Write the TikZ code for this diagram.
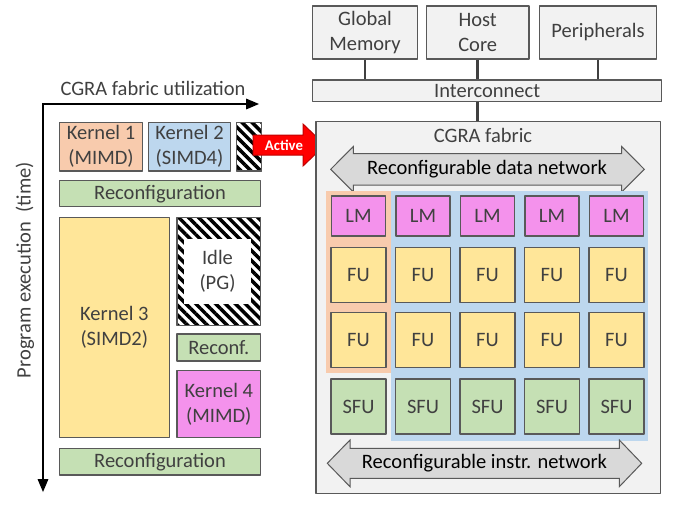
\documentclass[tikz,border=0pt]{standalone}
\usepackage{fontspec}
\setmainfont{Carlito}
\usetikzlibrary{arrows,patterns.meta}
\definecolor{orangefill}{rgb}{0.9725,0.7961,0.6784}
\definecolor{bluefill}{rgb}{0.7412,0.8431,0.9333}
\definecolor{greenfill}{rgb}{0.7725,0.8784,0.7059}
\definecolor{yellowfill}{rgb}{1.,0.902,0.6}
\definecolor{pinkfill}{rgb}{0.9569,0.5725,0.9255}
\definecolor{panelgray}{rgb}{0.949,0.949,0.949}
\definecolor{netgray}{rgb}{0.851,0.851,0.851}
\definecolor{edgegray}{rgb}{0.349,0.349,0.349}
\definecolor{textgray}{rgb}{0.251,0.251,0.251}
\definecolor{darkred}{rgb}{0.7529,0.,0.}
\tikzset{
  box/.style={draw=edgegray,line width=1.3pt,inner sep=0pt,align=center,text=textgray,
    font=\fontsize{20.5}{25}\selectfont},
  hatch/.style={box,preaction={fill=white},
    pattern={Lines[angle=-45,distance=7pt,line width=3.5pt]},pattern color=black},
  unit/.style={box,minimum width=55pt,minimum height=55pt},
  link/.style={draw=textgray,line width=2.5pt,line cap=butt},
  netarrow/.style={draw=edgegray,fill=netgray,line width=1pt,line join=miter}
}

\begin{document}
\begin{tikzpicture}[line cap=round,line join=round,>=triangle 45,x=1pt,y=-1pt]
\useasboundingbox (0,0) rectangle (674,504);
% time line and utilization axis
\coordinate (origin) at (43,104);
\coordinate (xend) at (259,104);
\coordinate (yend) at (43,492);
\draw [line width=2.pt,<->,line join=miter] (xend) -- (origin) -- (yend);
\node [text=textgray,font=\fontsize{20.5}{25}\selectfont] (util) at (153,88) {CGRA fabric utilization};
\node [text=textgray,font=\fontsize{20.5}{25}\selectfont,rotate=90] (time) at (25,270) {Program execution\ \ (time)};
% schedule
\node [box,fill=orangefill,minimum width=83.4pt,minimum height=48.7pt] (k1) at (101,146.7) {Kernel 1\\(MIMD)};
\node [box,fill=bluefill,minimum width=82.4pt,minimum height=48.7pt] (k2) at (189.5,146.7) {Kernel 2\\(SIMD4)};
\node [hatch,minimum width=24.6pt,minimum height=48.7pt] (spare) at (249,146.7) {};
\node [box,fill=greenfill,minimum width=201pt,minimum height=26pt] (rc1) at (160,193.7) {Reconfiguration};
\node [box,fill=yellowfill,minimum width=110pt,minimum height=220pt] (k3) at (114.3,327.7) {Kernel 3\\(SIMD2)};
\node [hatch,minimum width=83.5pt,minimum height=107.6pt] (idle) at (218.8,271.5) {};
\node [box,draw=none,fill=white,minimum width=66.4pt,minimum height=64.7pt] (idletxt) at (217.5,271.7) {Idle\\(PG)};
\node [box,fill=greenfill,minimum width=83.5pt,minimum height=27pt] (rc2) at (218.8,347.5) {Reconf.};
\node [box,fill=pinkfill,minimum width=83.5pt,minimum height=67pt] (k4) at (218.8,404.2) {Kernel 4\\(MIMD)};
\node [box,fill=greenfill,minimum width=201pt,minimum height=26.7pt] (rc3) at (160,461.7) {Reconfiguration};
% active arrow
\draw [fill=red,draw=darkred,line width=1pt,line join=miter] (253,135) -- (303,135) -- (303,124) -- (325,145) -- (303,166) -- (303,155) -- (253,155) -- cycle;
\node [text=white,font=\fontsize{14.8}{16}\selectfont\bfseries] (active) at (284,145.5) {Active};
% system
\node [box,fill=panelgray,minimum width=104.6pt,minimum height=53pt] (gm) at (365,32.5) {Global\\Memory};
\node [box,fill=panelgray,minimum width=102.7pt,minimum height=53pt] (hc) at (477.7,32.5) {Host\\Core};
\node [box,fill=panelgray,minimum width=117.4pt,minimum height=53pt] (per) at (598,32.5) {Peripherals};
\node [box,fill=panelgray,minimum width=349pt,minimum height=21.7pt] (ic) at (487.2,90.8) {Interconnect};
\node [box,fill=panelgray,minimum width=344.7pt,minimum height=371.6pt] (fab) at (488.3,307.5) {};
\draw [link] (gm.south) -- (gm.south |- ic.north);
\draw [link] (hc.south) -- (hc.south |- ic.north);
\draw [link] (per.south) -- (per.south |- ic.north);
\draw [link] (ic.south -| hc.south) -- (fab.north -| hc.south);
\node [text=textgray,font=\fontsize{20.5}{25}\selectfont] (fablabel) at (483,135) {CGRA fabric};
% CGRA fabric
\draw [netarrow] (330.7,169.3) -- (353.3,146.5) -- (353.3,153.5) -- (621.7,153.5) -- (621.7,146.5) -- (644.3,169.3) -- (621.7,192) -- (621.7,185) -- (353.3,185) -- (353.3,192) -- cycle;
\node [font=\fontsize{20.5}{25}\selectfont] (datanet) at (487,169.3) {Reconfigurable data network};
\fill [orangefill] (325.7,191) rectangle (391,373.3);
\fill [bluefill] (391,191) rectangle (648.3,441);
\foreach \c [count=\i] in {358.5,423,487.5,552,616.5} {
\node [box,fill=pinkfill,minimum width=54pt,minimum height=40pt] (lm\i) at (\c,216) {LM};
\node [unit,fill=yellowfill] (fua\i) at (\c,275) {FU};
\node [unit,fill=yellowfill] (fub\i) at (\c,340) {FU};
\node [unit,fill=greenfill] (sfu\i) at (\c,406.5) {SFU};
}
\draw [netarrow] (327.3,463.3) -- (350,440) -- (350,448.3) -- (619.3,448.3) -- (619.3,440) -- (641.7,463.3) -- (619.3,486.7) -- (619.3,478.3) -- (350,478.3) -- (350,486.7) -- cycle;
\node [font=\fontsize{20.5}{25}\selectfont] (instrnet) at (484.5,463.3) {Reconfigurable instr. network};
\end{tikzpicture}
\end{document}
